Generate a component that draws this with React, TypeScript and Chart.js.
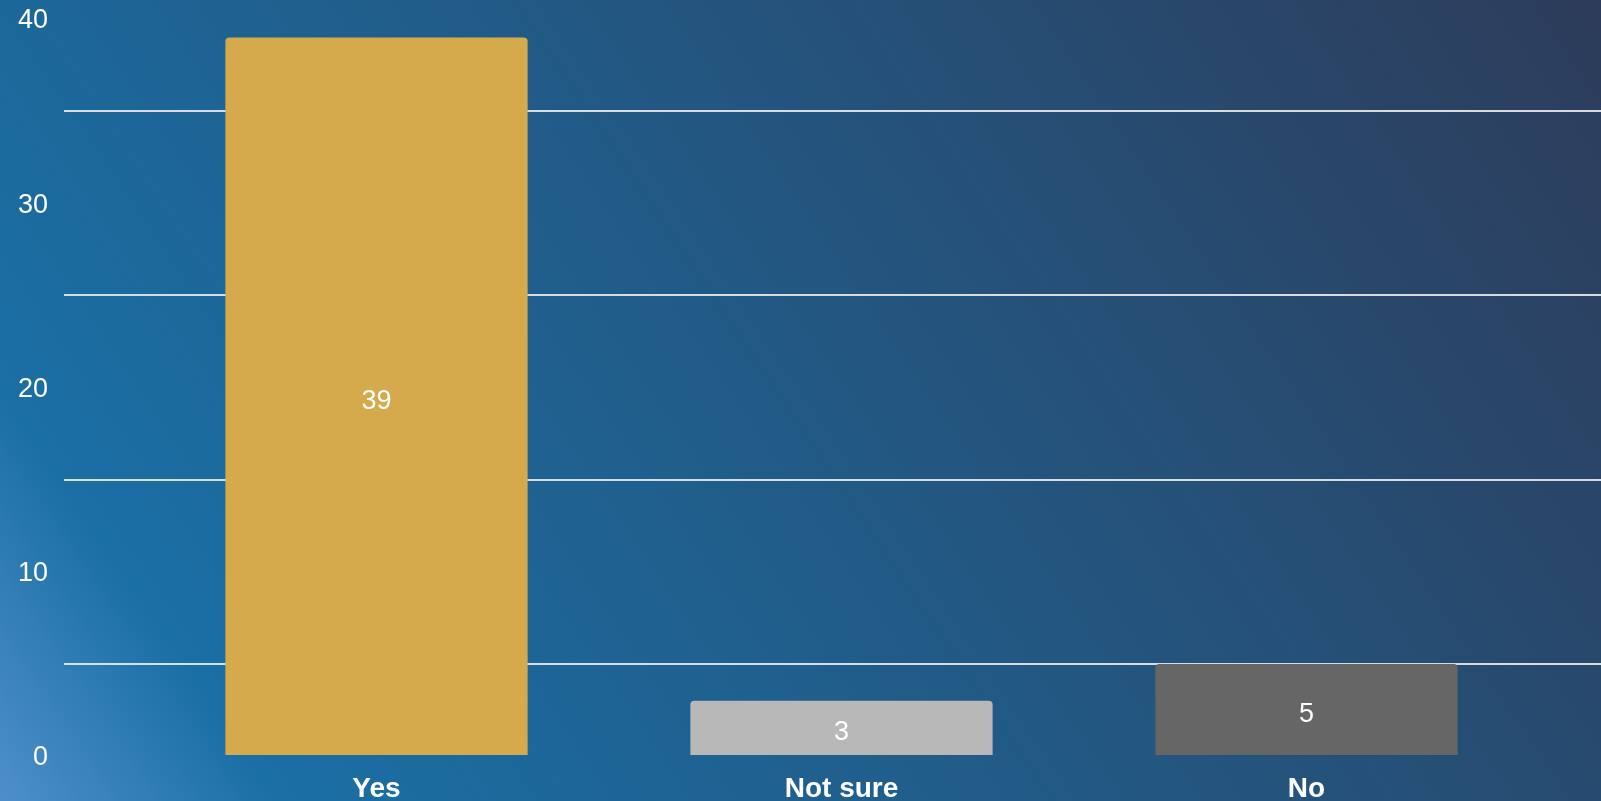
import { useEffect, useRef } from 'react';
import { Chart, registerables } from 'chart.js';

Chart.register(...registerables);

const categories = ['Yes', 'Not sure', 'No'];
const values = [39, 3, 5];
const barColors = ['#d4aa4c', '#b8b8b8', '#666666'];
const yMin = 0;
const yMax = 40;
const yStep = 10;

const FONT = '"Liberation Sans", Arial, Helvetica, sans-serif';

const valueLabels = {
  id: 'valueLabels',
  afterDatasetsDraw(chart: any) {
    const { ctx } = chart;
    const meta = chart.getDatasetMeta(0);
    ctx.save();
    ctx.fillStyle = '#ffffff';
    ctx.font = `27px ${FONT}`;
    ctx.textAlign = 'center';
    ctx.textBaseline = 'middle';
    meta.data.forEach((bar: any, i: number) => {
      const { x, y, base } = bar.getProps(['x', 'y', 'base'], true);
      ctx.fillText(String(values[i]), x, (y + base) / 2 + 5);
    });
    ctx.restore();
  },
};

export default function App() {
  const canvasRef = useRef<HTMLCanvasElement | null>(null);

  useEffect(() => {
    if (!canvasRef.current) return;
    const gridColor = 'rgba(235,235,235,0.9)';
    const chart = new Chart(canvasRef.current, {
      type: 'bar',
      data: {
        labels: categories,
        datasets: [
          {
            data: values,
            backgroundColor: barColors,
            borderRadius: 4,
            borderSkipped: 'start',
            categoryPercentage: 1,
            barPercentage: 0.65,
          },
        ],
      },
      options: {
        animation: false,
        responsive: true,
        maintainAspectRatio: false,
        layout: { padding: 0 },
        plugins: {
          legend: { display: false },
          tooltip: { enabled: false },
        },
        scales: {
          x: {
            grid: { display: false, drawTicks: false },
            border: { display: false },
            ticks: {
              color: '#ffffff',
              padding: 16,
              font: { family: FONT, size: 28, weight: 'bold' },
            },
            afterFit(scale: any) {
              scale.height = 45;
            },
          },
          y: {
            min: yMin,
            max: yMax,
            border: { display: false },
            grid: {
              offset: true,
              color: gridColor,
              lineWidth: 2,
              tickLength: 80,
            },
            ticks: {
              stepSize: yStep,
              color: '#ffffff',
              padding: 16,
              labelOffset: 2,
              font: { family: FONT, size: 27 },
            },
            afterFit(scale: any) {
              scale.width = 144;
              scale.paddingTop = 19;
              scale.paddingBottom = 0;
            },
          },
          y2: {
            position: 'right',
            min: yMin,
            max: yMax,
            border: { display: false },
            grid: {
              offset: true,
              drawOnChartArea: false,
              color: gridColor,
              lineWidth: 2,
              tickLength: 62,
            },
            ticks: { display: false, stepSize: yStep },
          },
        },
      },
      plugins: [valueLabels],
    });
    return () => chart.destroy();
  }, []);

  return (
    <div
      style={{
        position: 'fixed',
        inset: 0,
        background:
          'linear-gradient(56deg, #4e8fcb 0%, #1a6fa5 13%, #2d3c5a 100%)',
      }}
    >
      <canvas ref={canvasRef} />
    </div>
  );
}
